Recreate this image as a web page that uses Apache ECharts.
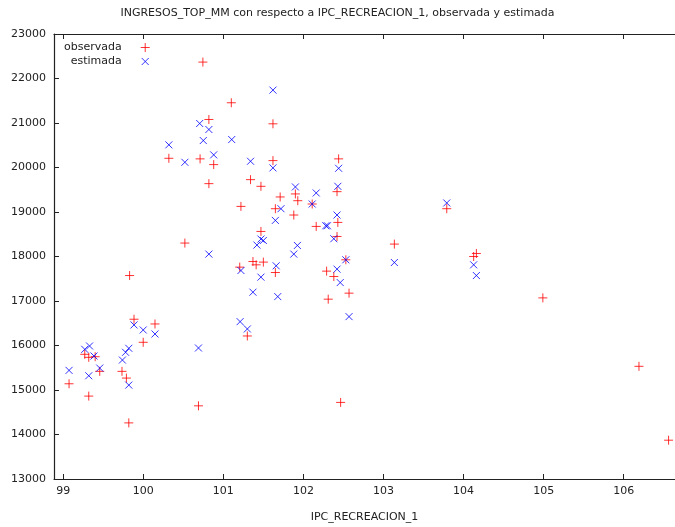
<!DOCTYPE html>
<html>
<head>
<meta charset="utf-8">
<script src="https://cdn.jsdelivr.net/npm/echarts@6/dist/echarts.min.js"></script>
<style>
html,body{margin:0;padding:0;background:#fff;}
#chart{width:675px;height:527px;}
</style>
</head>
<body>
<div id="chart"></div>
<script>
const titleText = 'INGRESOS_TOP_MM con respecto a IPC_RECREACION_1, observada y estimada';
const xName = 'IPC_RECREACION_1';
const xTicks = [99, 100, 101, 102, 103, 104, 105, 106];

const obsX = [100.745, 101.10, 100.82, 101.62, 100.32, 100.71, 100.88, 101.62, 102.44, 100.82,
  101.34, 101.47, 102.42, 101.90, 101.93, 101.71, 101.22, 102.11, 101.65, 101.88,
  102.43, 102.16, 101.47, 102.42, 100.52, 101.205, 101.37, 101.41, 101.50, 101.65,
  102.53, 102.29, 102.38, 102.57, 102.31, 102.465, 99.83, 99.885, 100.147, 100.0,
  101.30, 100.69, 99.27, 99.32, 99.40, 99.457, 99.074, 99.32, 99.735, 99.79,
  99.82, 103.79, 103.136, 104.16, 104.126, 104.99, 106.19, 106.56];
const obsY = [22369, 21455, 21079, 20982, 20207, 20194, 20065, 20155, 20194, 19637,
  19727, 19577, 19457, 19406, 19254, 19338, 19126, 19180, 19074, 18932,
  18766, 18676, 18563, 18450, 18302, 17761, 17887, 17813, 17874, 17640,
  17926, 17671, 17550, 17176, 17041, 14721, 17572, 16590, 16484, 16072,
  16214, 14644, 15802, 15734, 15748, 15419, 15140, 14863, 15419, 15268,
  14261, 19074, 18279, 18068, 18000, 17070, 15532, 13872];

const estX = [101.62, 100.705, 100.82, 100.32, 100.75, 101.105, 100.88, 100.52, 101.62, 101.34,
  102.44, 101.90, 102.16, 102.43, 102.11, 101.72, 102.42, 101.65, 102.30, 102.28,
  101.47, 101.50, 101.42, 102.38, 101.925, 101.88, 102.53, 102.42, 102.46, 102.57,
  100.82, 101.22, 101.66, 101.47, 101.37, 101.68, 99.885, 100.0, 100.147, 101.21,
  101.30, 100.69, 99.27, 99.33, 99.386, 99.32, 99.457, 99.074, 99.74, 99.78,
  99.82, 99.82, 103.79, 103.136, 104.126, 104.16];
const estY = [21739, 20989, 20854, 20509, 20606, 20628, 20284, 20117, 19991, 20140,
  19982, 19563, 19428, 19577, 19180, 19074, 18932, 18811, 18691, 18691,
  18392, 18360, 18257, 18399, 18248, 18054, 17926, 17716, 17414, 16649,
  18054, 17685, 17791, 17536, 17198, 17099, 16462, 16349, 16259, 16536,
  16372, 15944, 15914, 15989, 15764, 15320, 15493, 15441, 15673, 15847,
  15937, 15110, 19203, 17865, 17813, 17572];

const obsData = obsX.map((x, i) => [x, obsY[i]]);
const estData = estX.map((x, i) => [x, estY[i]]);

const FONT = 'DejaVu Sans';
const TXT = '#222';
const plusPath = 'path://M0,5L10,5M5,0L5,10';
const crossPath = 'path://M0,0L10,10M10,0L0,10';
const crossLegendPath = 'path://M0,0M9,9M1,1L8,8M8,1L1,8';

const chart = echarts.init(document.getElementById('chart'), null, {renderer: 'canvas'});
const axisLine = {show: true, lineStyle: {color: '#222', width: 1.2}};
chart.setOption({
  animation: false,
  backgroundColor: '#fff',
  title: {
    text: titleText, left: 'center', top: 3,
    textStyle: {fontFamily: FONT, fontSize: 11, fontWeight: 'normal', color: TXT}
  },
  legend: {
    orient: 'vertical', align: 'right', left: 59, top: 37,
    itemWidth: 9, itemHeight: 9, itemGap: 3,
    itemStyle: {borderWidth: 1},
    textStyle: {fontFamily: FONT, fontSize: 11, color: TXT, padding: [0, 14, 0, 0]},
    data: [{name: 'observada'}, {name: 'estimada', icon: crossLegendPath}]
  },
  grid: {left: 54, right: 0, top: 34, bottom: 48, outerBoundsMode: 'none'},
  xAxis: [{
    type: 'value', min: 98.886, max: 106.64, position: 'bottom',
    name: xName, nameLocation: 'middle', nameGap: 33,
    nameTextStyle: {fontFamily: FONT, fontSize: 11, color: TXT},
    axisLine: axisLine,
    axisTick: {show: true, inside: true, length: 5, customValues: xTicks, lineStyle: {color: '#222'}},
    axisLabel: {customValues: xTicks, fontFamily: FONT, fontSize: 11, color: TXT, margin: 7},
    splitLine: {show: false}
  }, {
    type: 'value', min: 98.886, max: 106.64, position: 'top',
    axisLine: axisLine,
    axisTick: {show: true, inside: true, length: 5, customValues: xTicks, lineStyle: {color: '#222'}},
    axisLabel: {show: false},
    splitLine: {show: false}
  }],
  yAxis: {
    type: 'value', min: 13000, max: 23000, interval: 1000,
    axisLine: axisLine,
    axisTick: {show: true, inside: true, length: 5, lineStyle: {color: '#222'}},
    axisLabel: {fontFamily: FONT, fontSize: 11, color: TXT, margin: 8, formatter: v => String(v)},
    splitLine: {show: false}
  },
  series: [{
    name: 'observada', type: 'scatter', xAxisIndex: 0,
    symbol: plusPath, symbolSize: 9,
    itemStyle: {color: 'rgba(0,0,0,0)', borderColor: '#ff0000', borderWidth: 1},
    data: obsData
  }, {
    name: 'estimada', type: 'scatter', xAxisIndex: 0,
    symbol: crossPath, symbolSize: 7,
    itemStyle: {color: 'rgba(0,0,0,0)', borderColor: '#0000ff', borderWidth: 1},
    data: estData
  }]
});
</script>
</body>
</html>
